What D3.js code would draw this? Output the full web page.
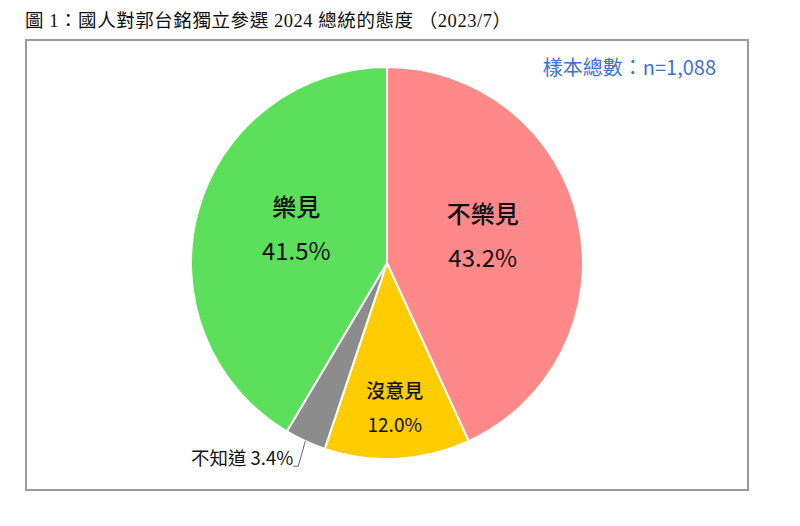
<!DOCTYPE html>
<html>
<head>
<meta charset="utf-8">
<title>國人對郭台銘獨立參選 2024 總統的態度</title>
<script src="https://cdn.jsdelivr.net/npm/d3@7"></script>
<style>
  body { margin: 0; background: #fff; }
  svg { display: block; }
</style>
</head>
<body>
<div id="chart"></div>
<script>
// data
var categories = ["不樂見", "沒意見", "不知道", "樂見"];
var shares = [43.2, 12.0, 3.4, 41.5];
var colors = ["#ff8888", "#ffcc00", "#8c8c8c", "#5ce05c"];
var titleText = "圖 1：國人對郭台銘獨立參選 2024 總統的態度 （2023/7）";
var sampleText = "樣本總數：n=1,088";

var width = 800, height = 526;
var cx = 387, cy = 263, r = 196;

var svg = d3.select("#chart").append("svg")
    .attr("width", width)
    .attr("height", height);

// title
svg.append("text")
    .attr("x", 25)
    .attr("y", 27)
    .attr("textLength", 486)
    .attr("lengthAdjust", "spacing")
    .style("font-family", "'Liberation Serif', 'Noto Sans CJK TC', serif")
    .style("font-size", "18.5px")
    .style("fill", "#111")
    .text(titleText);

// frame
svg.append("rect")
    .attr("x", 26).attr("y", 40)
    .attr("width", 722).attr("height", 450)
    .style("fill", "none")
    .style("stroke", "#9a9a9a")
    .style("stroke-width", 2);

svg.append("text")
    .attr("x", 716)
    .attr("y", 75)
    .attr("text-anchor", "end")
    .style("font-family", "'Noto Sans CJK TC', sans-serif")
    .style("font-size", "20px")
    .style("fill", "#3c6fd9")
    .text(sampleText);

var data = categories.map(function (c, i) {
    return { name: c, value: shares[i], color: colors[i] };
});

var pie = d3.pie()
    .sort(null)
    .value(function (d) { return d.value; });

var arc = d3.arc().innerRadius(0).outerRadius(r);

var g = svg.append("g")
    .attr("transform", "translate(" + cx + "," + cy + ")");

var arcs = pie(data);

g.selectAll("path")
    .data(arcs)
    .enter().append("path")
    .attr("d", arc)
    .style("fill", function (d) { return d.data.color; })
    .style("stroke", "#fff")
    .style("stroke-width", 2);

// inside labels: share of radius, font size, small vertical nudge
var labelCfg = {
    "不樂見": { k: 0.5, size: 24, dy: -6 },
    "沒意見": { k: 0.74, size: 19, dy: 0 },
    "樂見": { k: 0.48, size: 24, dy: -9 }
};

function polar(a, rr) {
    return [Math.sin(a) * rr, -Math.cos(a) * rr];
}

var inside = g.selectAll("g.label")
    .data(arcs.filter(function (d) { return labelCfg[d.data.name]; }))
    .enter().append("g")
    .attr("class", "label")
    .attr("transform", function (d) {
        var c = labelCfg[d.data.name];
        var p = polar((d.startAngle + d.endAngle) / 2, r * c.k);
        return "translate(" + p[0] + "," + (p[1] + c.dy) + ")";
    });

inside.append("text")
    .attr("text-anchor", "middle")
    .attr("y", function (d) { return -labelCfg[d.data.name].size * 0.53; })
    .style("font-family", "'Noto Sans CJK TC', sans-serif")
    .style("font-weight", 500)
    .style("font-size", function (d) { return labelCfg[d.data.name].size + "px"; })
    .style("fill", "#111")
    .text(function (d) { return d.data.name; });

inside.append("text")
    .attr("text-anchor", "middle")
    .attr("y", function (d) { return labelCfg[d.data.name].size * 1.27; })
    .style("font-family", "'Noto Sans CJK TC', sans-serif")
    .style("font-size", function (d) { return labelCfg[d.data.name].size + "px"; })
    .style("fill", "#111")
    .text(function (d) { return d.data.value.toFixed(1) + "%"; });

// small slice: label outside with a leader line
var small = arcs.filter(function (d) { return !labelCfg[d.data.name]; });
small.forEach(function (d) {
    var p = polar((d.startAngle + d.endAngle) / 2, r);
    var end = [p[0] - 7, p[1] + 25];
    g.append("polyline")
        .attr("points", [p, end, [end[0] - 5, end[1]]].map(function (q) { return q.join(","); }).join(" "))
        .style("fill", "none")
        .style("stroke", "#666")
        .style("stroke-width", 1);
    g.append("text")
        .attr("x", end[0] - 5)
        .attr("y", end[1] - 1)
        .attr("text-anchor", "end")
        .style("font-family", "'Noto Sans CJK TC', sans-serif")
        .style("font-size", "18.5px")
        .style("fill", "#111")
        .text(d.data.name + " " + d.data.value.toFixed(1) + "%");
});
</script>
</body>
</html>
